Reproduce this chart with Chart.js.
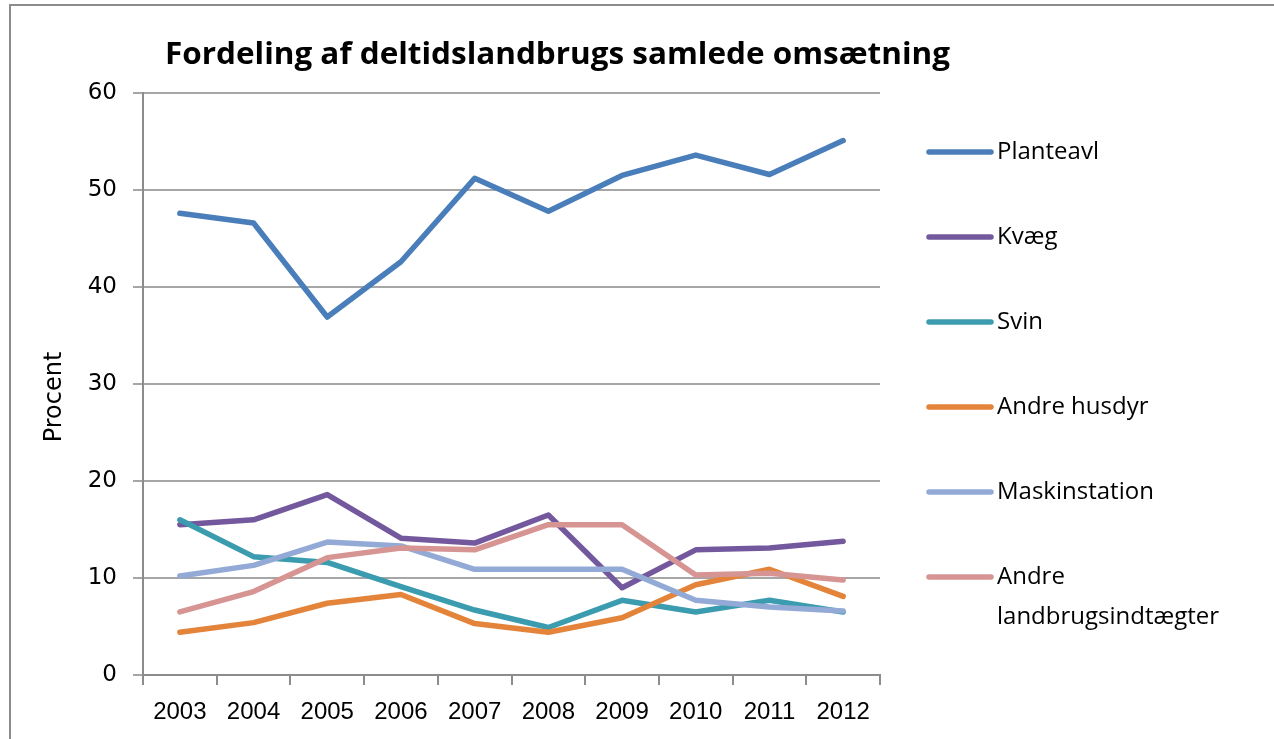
<!DOCTYPE html>
<html>
<head>
<meta charset="utf-8">
<script src="https://cdn.jsdelivr.net/npm/chart.js@4/dist/chart.umd.min.js"></script>
<style>
  html, body { margin: 0; padding: 0; background: #fff; overflow: hidden; }
  #ramme { position: absolute; left: 9px; top: 4px; width: 1400px; height: 900px;
           border-left: 2px solid #8c8c8c; border-top: 2px solid #8c8c8c; }
  #wrap { position: absolute; left: 0; top: 0; width: 1274px; height: 739px; }
</style>
</head>
<body>
<div id="ramme"></div>
<div id="wrap"><canvas id="chart1"></canvas></div>
<script>
// Data (procent)
var aar = ["2003", "2004", "2005", "2006", "2007", "2008", "2009", "2010", "2011", "2012"];
var planteavl = [47.6, 46.6, 36.9, 42.6, 51.2, 47.8, 51.5, 53.6, 51.6, 55.1];
var kvaeg = [15.5, 16.0, 18.6, 14.1, 13.6, 16.5, 9.0, 12.9, 13.1, 13.8];
var svin = [16.0, 12.2, 11.6, 9.1, 6.7, 4.9, 7.7, 6.5, 7.7, 6.5];
var andreHusdyr = [4.4, 5.4, 7.4, 8.3, 5.3, 4.4, 5.9, 9.3, 10.9, 8.1];
var maskinstation = [10.2, 11.3, 13.7, 13.3, 10.9, 10.9, 10.9, 7.7, 7.0, 6.6];
var andreIndtaegter = [6.5, 8.6, 12.1, 13.1, 12.9, 15.5, 15.5, 10.3, 10.5, 9.8];
var serieNavne = ["Planteavl", "Kvæg", "Svin", "Andre husdyr", "Maskinstation", ["Andre", "landbrugsindtægter"]];
var yMin = 0, yMax = 60, yStep = 10;

var farver = ["#4a7ebb", "#74589d", "#3c9caf", "#e3843a", "#93aad6", "#d69593"];
var serier = [planteavl, kvaeg, svin, andreHusdyr, maskinstation, andreIndtaegter];

var datasets = [];
for (var i = 0; i < serier.length; i++) {
    datasets.push({
        label: Array.isArray(serieNavne[i]) ? serieNavne[i].join(" ") : serieNavne[i],
        data: serier[i],
        borderColor: farver[i],
        backgroundColor: farver[i],
        borderWidth: 5.5,
        pointRadius: 0,
        tension: 0,
        borderJoinStyle: "round",
        borderCapStyle: "round",
        order: serier.length - i   // sidste serie tegnes øverst, som i Excel
    });
}

// Titel, aksetitel og forklaring tegnes selv, så de kan placeres som i originalen
var tekstPlugin = {
    id: "tekstPlugin",
    afterDraw: function (chart) {
        var ctx = chart.ctx;
        ctx.save();
        // titel
        var titel = "Fordeling af deltidslandbrugs samlede omsætning";
        ctx.font = 'bold 30px "Open Sans"';
        ctx.fillStyle = "#000";
        ctx.textBaseline = "middle";
        var b = ctx.measureText(titel).width;
        ctx.translate(165, 55);
        ctx.scale(785 / b, 1);
        ctx.fillText(titel, 0, 0);
        ctx.restore();

        // y-aksens titel
        ctx.save();
        ctx.font = '24px "DejaVu Sans"';
        ctx.fillStyle = "#000";
        ctx.textAlign = "center";
        ctx.textBaseline = "middle";
        ctx.translate(55, 397);
        ctx.rotate(-Math.PI / 2);
        ctx.fillText("Procent", 0, 0);
        ctx.restore();

        // forklaring
        ctx.save();
        var legendY = [152, 237, 322, 407, 492, 577];
        ctx.font = '24px "Open Sans"';
        ctx.textBaseline = "middle";
        ctx.lineCap = "round";
        for (var j = 0; j < chart.data.datasets.length; j++) {
            var ds = chart.data.datasets[j];
            ctx.strokeStyle = ds.borderColor;
            ctx.lineWidth = 5.5;
            ctx.beginPath();
            ctx.moveTo(929, legendY[j]);
            ctx.lineTo(991, legendY[j]);
            ctx.stroke();
            ctx.fillStyle = "#000";
            var linjer = Array.isArray(serieNavne[j]) ? serieNavne[j] : [serieNavne[j]];
            for (var k = 0; k < linjer.length; k++) {
                ctx.fillText(linjer[k], 997, legendY[j] + k * 40);
            }
        }
        ctx.restore();
    }
};

var contexto = document.getElementById("chart1").getContext("2d");
var miGrafico = new Chart(contexto, {
    type: "line",
    data: { labels: aar, datasets: datasets },
    plugins: [tekstPlugin],
    options: {
        responsive: true,
        maintainAspectRatio: false,
        animation: false,
        layout: { padding: { left: 30, top: 93, right: 394, bottom: 0 } },
        plugins: {
            legend: { display: false },
            title: { display: false },
            tooltip: { enabled: false }
        },
        scales: {
            x: {
                offset: true,
                afterFit: function (scale) { scale.height = 64; },
                grid: { offset: true, drawOnChartArea: false, drawTicks: true, tickLength: 10, color: "#8c8c8c", lineWidth: 2 },
                border: { color: "#8c8c8c", width: 2 },
                ticks: { color: "#000", font: { family: "Liberation Sans", size: 24 }, padding: 13, maxRotation: 0, autoSkip: false }
            },
            y: {
                min: yMin,
                max: yMax,
                afterFit: function (scale) { scale.width = 113; },
                grid: { color: "#a6a6a6", lineWidth: 2, tickLength: 10 },
                border: { color: "#8c8c8c", width: 2 },
                ticks: { stepSize: yStep, color: "#000", font: { family: "DejaVu Sans", size: 23 }, padding: 16 }
            }
        }
    }
});
</script>
</body>
</html>
